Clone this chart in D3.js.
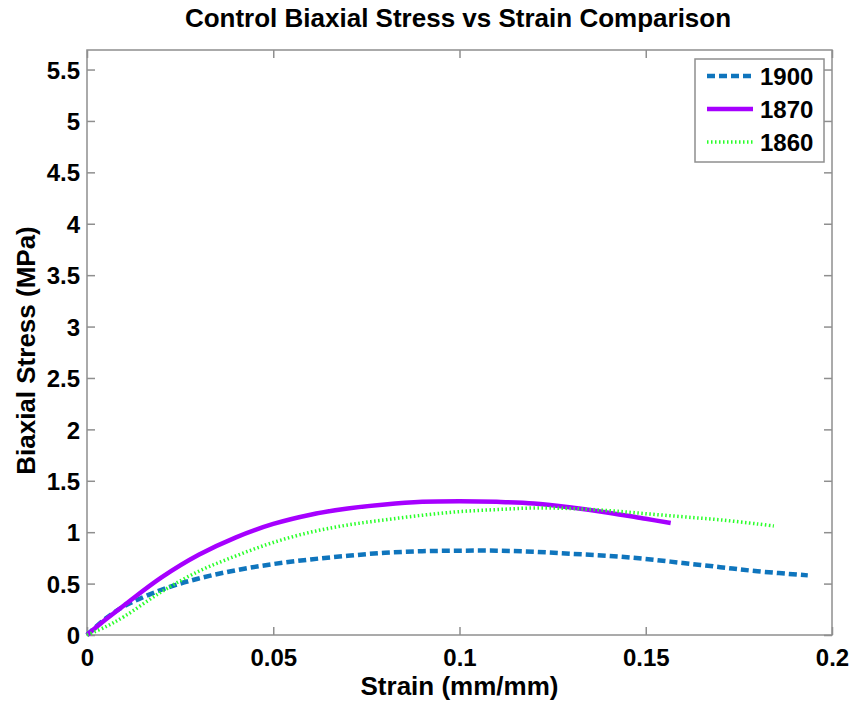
<!DOCTYPE html>
<html><head><meta charset="utf-8">
<script src="https://cdn.jsdelivr.net/npm/d3@7"></script>
<style>body{margin:0;background:#fff}svg{display:block}text{font-family:"Liberation Sans",Arial,sans-serif;font-weight:bold;fill:#000}</style>
</head><body>
<script>
const strain1900 = [0,0.005,0.01,0.02,0.03,0.04,0.05,0.06,0.07,0.08,0.09,0.1,0.11,0.12,0.13,0.14,0.15,0.16,0.17,0.18,0.1935];
const stress1900 = [0,0.16,0.28,0.44,0.55,0.63,0.69,0.735,0.77,0.80,0.815,0.82,0.82,0.81,0.79,0.77,0.74,0.70,0.66,0.62,0.58];
const strain1870 = [0,0.005,0.01,0.02,0.03,0.04,0.05,0.06,0.07,0.08,0.09,0.1,0.11,0.12,0.13,0.14,0.15,0.1567];
const stress1870 = [0,0.15,0.29,0.56,0.78,0.95,1.08,1.17,1.23,1.27,1.295,1.30,1.295,1.28,1.24,1.19,1.13,1.09];
const strain1860 = [0,0.005,0.01,0.02,0.03,0.04,0.05,0.06,0.07,0.08,0.09,0.1,0.11,0.12,0.13,0.14,0.15,0.16,0.17,0.18,0.1844];
const stress1860 = [0,0.08,0.18,0.42,0.62,0.77,0.90,1.00,1.07,1.12,1.165,1.20,1.22,1.235,1.23,1.21,1.18,1.15,1.12,1.08,1.06];
const xTicks = [0,0.05,0.1,0.15,0.2];
const xTickLabels = ["0","0.05","0.1","0.15","0.2"];
const yTicks = [0,0.5,1,1.5,2,2.5,3,3.5,4,4.5,5,5.5];
const yTickLabels = ["0","0.5","1","1.5","2","2.5","3","3.5","4","4.5","5","5.5"];
const seriesNames = ["1900","1870","1860"];
const titleText = "Control Biaxial Stress vs Strain Comparison";
const xLabel = "Strain (mm/mm)";
const yLabel = "Biaxial Stress (MPa)";

const W=855,H=703;
const L=87,R=832,T=50,B=635;
const svg=d3.select("body").append("svg").attr("width",W).attr("height",H);
const x=d3.scaleLinear().domain([0,0.2]).range([L,R]);
const y=d3.scaleLinear().domain([0,5.69]).range([B,T]);

const styles=[
  {color:"#0f75bd",width:4.5,dash:"8,4"},
  {color:"#a600ff",width:4.5,dash:null},
  {color:"#2aff2a",width:3.5,dash:"1.5,2.5"}
];
const series=[[strain1900,stress1900],[strain1870,stress1870],[strain1860,stress1860]];

// axes box
const axc="#8f8f8f";
svg.append("rect").attr("x",L).attr("y",T).attr("width",R-L).attr("height",B-T)
  .attr("fill","none").attr("stroke",axc).attr("stroke-width",1.5);

const fmtX=(d,i)=>xTickLabels[i], fmtY=(d,i)=>yTickLabels[i];
const gx=svg.append("g").attr("transform",`translate(0,${B})`)
  .call(d3.axisBottom(x).tickValues(xTicks).tickFormat(fmtX).tickSizeInner(-8).tickSizeOuter(0).tickPadding(14));
const gxt=svg.append("g").attr("transform",`translate(0,${T})`)
  .call(d3.axisTop(x).tickValues(xTicks).tickFormat("").tickSizeInner(-8).tickSizeOuter(0));
const gy=svg.append("g").attr("transform",`translate(${L},0)`)
  .call(d3.axisLeft(y).tickValues(yTicks).tickFormat(fmtY).tickSizeInner(-8).tickSizeOuter(0).tickPadding(7));
const gyr=svg.append("g").attr("transform",`translate(${R},0)`)
  .call(d3.axisRight(y).tickValues(yTicks).tickFormat("").tickSizeInner(-8).tickSizeOuter(0));
[gx,gxt,gy,gyr].forEach(g=>{
  g.select(".domain").remove();
  g.selectAll(".tick line").attr("stroke",axc).attr("stroke-width",1.5);
  g.selectAll("text").style("font-size","24px").style("font-family","'Liberation Sans',Arial,sans-serif").style("font-weight","bold").attr("fill","#000");
});
gy.selectAll("text").attr("dy","0.36em");

// lines
const line=d3.line().x(d=>x(d[0])).y(d=>y(d[1])).curve(d3.curveCatmullRom.alpha(0.5));
series.forEach((s,i)=>{
  const pts=s[0].map((v,j)=>[v,s[1][j]]);
  const p=svg.append("path").datum(pts).attr("d",line).attr("fill","none")
    .attr("stroke",styles[i].color).attr("stroke-width",styles[i].width).attr("stroke-linejoin","round");
  if(styles[i].dash) p.attr("stroke-dasharray",styles[i].dash);
});

// legend
const lg=svg.append("g");
lg.append("rect").attr("x",695).attr("y",59).attr("width",129).attr("height",103)
  .attr("fill","#fff").attr("stroke",axc).attr("stroke-width",1.5);
seriesNames.forEach((n,i)=>{
  const yy=76+i*33;
  const l=lg.append("line").attr("x1",707).attr("x2",753).attr("y1",yy).attr("y2",yy)
    .attr("stroke",styles[i].color).attr("stroke-width",styles[i].width);
  if(styles[i].dash) l.attr("stroke-dasharray",styles[i].dash);
  lg.append("text").attr("x",760).attr("y",yy+9).style("font-size","24px").text(n);
});

// titles
svg.append("text").attr("x",458).attr("y",27).attr("text-anchor","middle").style("font-size","26px").text(titleText);
svg.append("text").attr("x",(L+R)/2).attr("y",695).attr("text-anchor","middle").style("font-size","26px").text(xLabel);
svg.append("text").attr("transform",`translate(35,${(T+B)/2+8}) rotate(-90)`).attr("text-anchor","middle").style("font-size","26px").text(yLabel);
</script>
</body></html>
